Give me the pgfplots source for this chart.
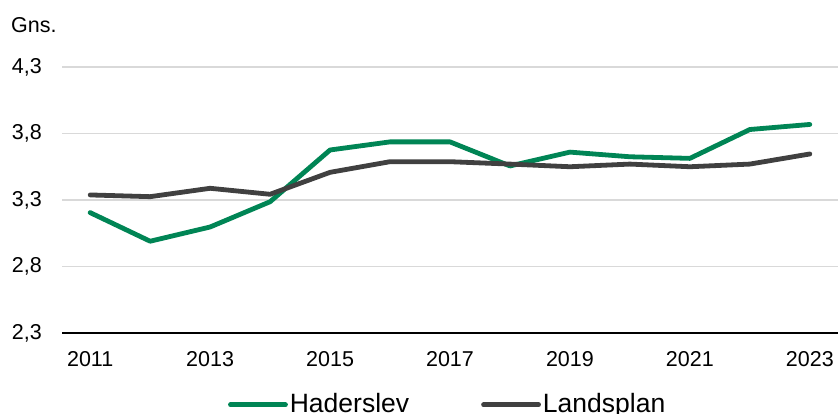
\documentclass[border=0pt]{standalone}
\usepackage{pgfplots}
\pgfplotsset{compat=1.18}
\usepackage{fontspec}
\setmainfont{Liberation Sans}
\definecolor{hgreen}{RGB}{0,133,85}
\definecolor{lgray}{RGB}{64,64,64}
\definecolor{gridc}{RGB}{217,217,217}
\begin{document}
\fontsize{21}{25}\selectfont
\begin{tikzpicture}[x=1pt,y=1pt]
\useasboundingbox (0,0) rectangle (838,414);
\begin{axis}[
  at={(62pt,81pt)}, anchor=south west,
  scale only axis, width=776pt, height=266pt,
  xmin=2010.53, xmax=2023.47,
  ymin=2.3, ymax=4.3,
  xtick={2011,2013,...,2023},
  ytick={2.3,2.8,3.3,3.8,4.3},
  /pgf/number format/assume math mode=true,
  /pgf/number format/use comma,
  yticklabel style={/pgf/number format/fixed,/pgf/number format/fixed zerofill,/pgf/number format/precision=1, anchor=east, inner sep=0pt, xshift=-20pt},
  xticklabel style={/pgf/number format/1000 sep={}, anchor=north, inner sep=0pt, yshift=-18pt},
  major tick length=0pt,
  axis x line=bottom, axis y line=left,
  x axis line style={-, black, line width=1.5pt},
  y axis line style={draw=none},
  ymajorgrids, grid style={gridc, line width=1.2pt},
  tick label style={font=\fontsize{21.5}{25}\selectfont},
  legend columns=2,
  legend style={draw=none, fill=none, at={(0.497,-0.27)}, anchor=center, font=\fontsize{26.5}{30}\selectfont, inner sep=0pt,
    /tikz/every even column/.append style={column sep=70pt}},
  legend image code/.code={\draw[#1, line cap=round] (0pt,0pt) -- (55pt,0pt);},
  every axis plot/.append style={line width=4.8pt, line join=round, line cap=round},
]
\addplot[hgreen] coordinates {
(2011,3.205) (2012,2.99) (2013,3.097) (2014,3.287) (2015,3.676) (2016,3.737) (2017,3.737) (2018,3.556) (2019,3.66) (2020,3.625) (2021,3.613) (2022,3.83) (2023,3.868)};
\addlegendentry{Haderslev}
\addplot[lgray] coordinates {
(2011,3.338) (2012,3.325) (2013,3.388) (2014,3.343) (2015,3.508) (2016,3.588) (2017,3.588) (2018,3.57) (2019,3.55) (2020,3.57) (2021,3.55) (2022,3.57) (2023,3.646)};
\addlegendentry{Landsplan}
\end{axis}
\node[anchor=base west, inner sep=0pt] at (11,381) {\fontsize{21.5}{25}\selectfont Gns.};
\end{tikzpicture}
\end{document}
